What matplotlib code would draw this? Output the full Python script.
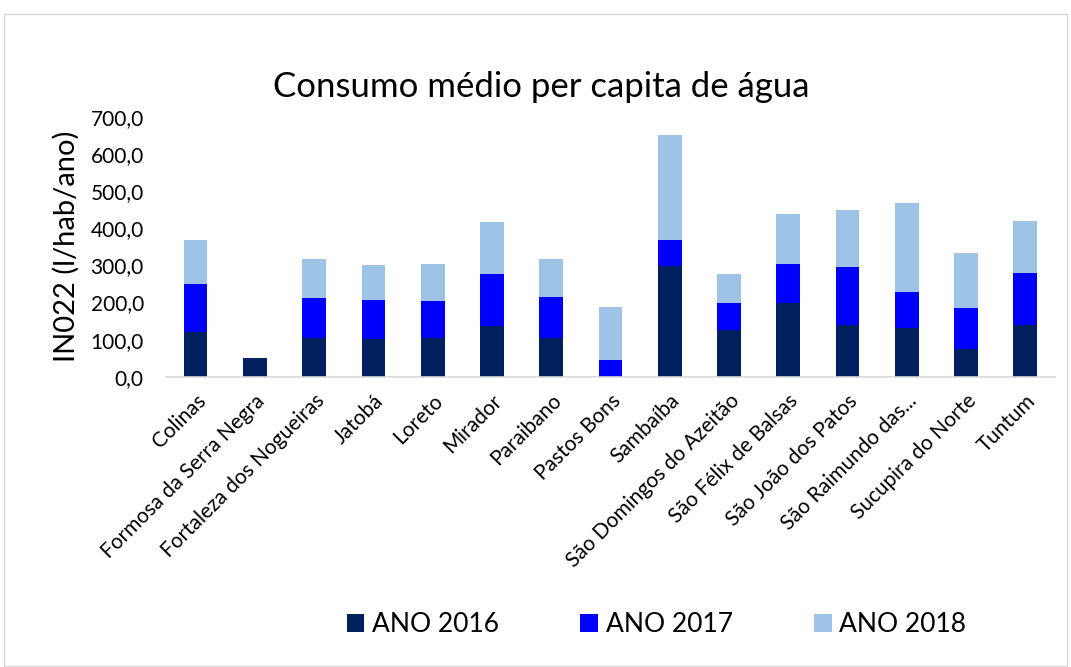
import matplotlib.pyplot as plt
import matplotlib.patches as mpatches
import numpy as np

plt.rcParams['font.family'] = ['Lato', 'DejaVu Sans']

# ========== 数据 ==========
municipios = ['Colinas', 'Formosa da Serra Negra', 'Fortaleza dos Nogueiras', 'Jatobá',
              'Loreto', 'Mirador', 'Paraibano', 'Pastos Bons', 'Sambaíba',
              'São Domingos do Azeitão', 'São Félix de Balsas', 'São João dos Patos',
              'São Raimundo das...', 'Sucupira do Norte', 'Tuntum']
ano_2016 = [120, 52, 105, 102, 104, 138, 104, 0, 297, 126, 199, 140, 132, 75, 139]
ano_2017 = [131, 0, 106, 106, 101, 139, 110, 45, 71, 74, 105, 155, 97, 111, 141]
ano_2018 = [117, 0, 106, 93, 99, 141, 102, 142, 282, 77, 134, 155, 238, 148, 139]
series_labels = ['ANO 2016', 'ANO 2017', 'ANO 2018']
colors = ['#002060', '#0000FF', '#9DC3E6']

# ========== 绘图 ==========
fig = plt.figure(figsize=(10.71, 6.67), dpi=100)
ax = fig.add_axes([0.155, 0.435, 0.830, 0.39])

x = np.arange(len(municipios))
b1 = np.array(ano_2016)
b2 = b1 + np.array(ano_2017)
ax.bar(x, ano_2016, 0.4, color=colors[0], label=series_labels[0])
ax.bar(x, ano_2017, 0.4, bottom=b1, color=colors[1], label=series_labels[1])
ax.bar(x, ano_2018, 0.4, bottom=b2, color=colors[2], label=series_labels[2])

ax.set_xlim(-0.5, len(municipios) - 0.5)
ax.set_ylim(0, 700)
ax.set_yticks(range(0, 701, 100))
ax.set_yticklabels([f'{v:.1f}'.replace('.', ',') for v in range(0, 701, 100)], fontsize=15)
ax.set_xticks(x)
ax.set_xticklabels(municipios, rotation=45, ha='right', rotation_mode='anchor', fontsize=15)
ax.tick_params(axis='y', length=0, pad=16)
ax.tick_params(axis='x', length=0, pad=10)
for s in ['top', 'right', 'left']:
    ax.spines[s].set_visible(False)
ax.spines['bottom'].set_color('#D9D9D9')
ax.spines['bottom'].set_linewidth(1.2)

ax.set_ylabel('IN022 (l/hab/ano)', fontsize=21, labelpad=8)
fig.text(0.505, 0.87, 'Consumo médio per capita de água', ha='center', va='center', fontsize=25)

fig.legend(loc='center', bbox_to_anchor=(0.613, 0.063), ncol=3, frameon=False,
           fontsize=19, handlelength=0.65, handleheight=0.65, handletextpad=0.3,
           columnspacing=3.1)

# 外框
fig.patches.append(mpatches.Rectangle((4 / 1071, 0.002), 1063 / 1071, 1 - 14 / 667 - 0.002,
                                      transform=fig.transFigure, fill=False,
                                      edgecolor='#D9D9D9', linewidth=1))

plt.savefig('out.png', dpi=100)
